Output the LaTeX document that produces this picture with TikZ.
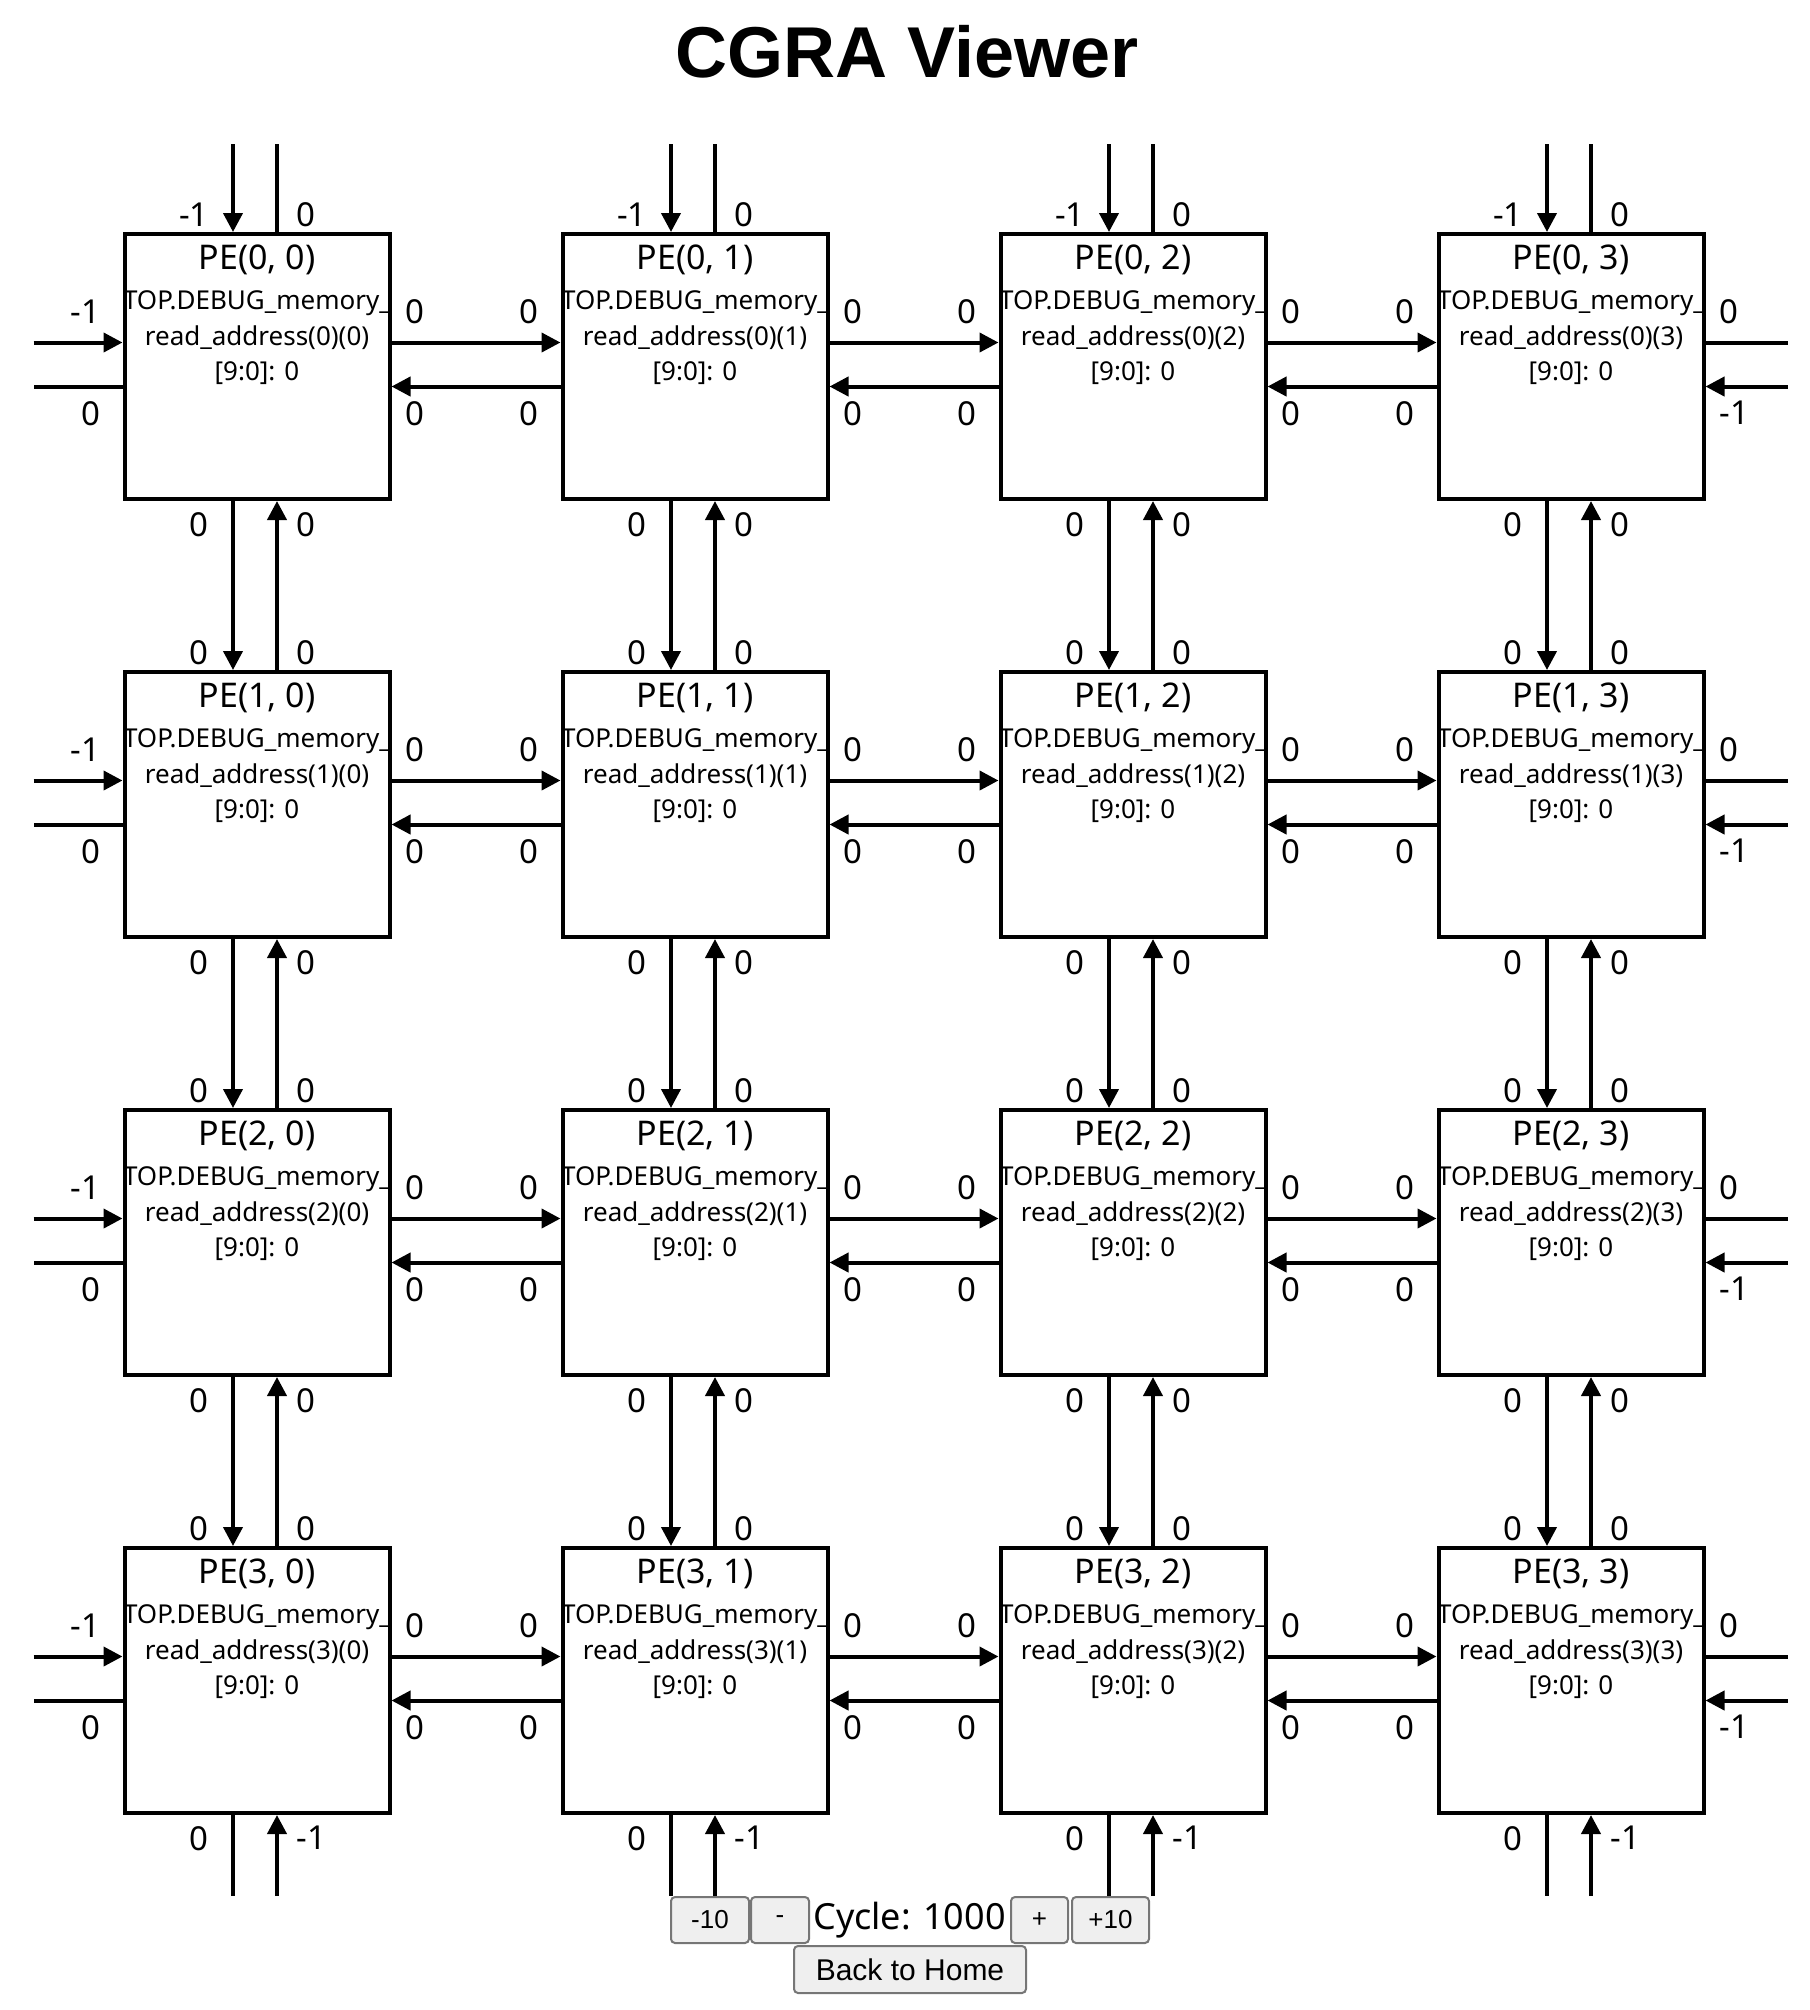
\documentclass[tikz,border=0pt]{standalone}
\usepackage{fontspec}
\setmainfont{Noto Sans}
\newfontfamily\webfont{Liberation Sans}
\usepackage{tikz}
\usetikzlibrary{positioning}
\usetikzlibrary{arrows.meta}
\definecolor{btnfill}{HTML}{EFEFEF}
\definecolor{btnline}{HTML}{767676}
\tikzset{
  pe/.style={draw, line width=2pt, minimum width=132.5pt, minimum height=132.5pt, inner sep=0pt},
  pename/.style={font=\fontsize{17}{19}\selectfont, inner sep=0pt},
  peinfo/.style={font=\fontsize{13}{17.75}\selectfont, align=center, inner sep=0pt},
  wire/.style={line width=2pt},
  tip/.style={-{Triangle[length=9.5pt,width=9.5pt]}},
  val/.style={font=\fontsize{16.5}{18}\selectfont, inner sep=0pt},
  title/.style={font=\webfont\bfseries\fontsize{36}{40}\selectfont},
  btn/.style={draw=btnline, fill=btnfill, line width=1pt, rounded corners=2pt, minimum height=23pt, inner sep=0pt, font=\webfont\fontsize{13}{15}\selectfont},
  cycle/.style={font=\fontsize{18}{20}\selectfont, inner sep=0pt}
}
\begin{document}
\begin{tikzpicture}[x=0.5pt,y=-0.5pt]
\useasboundingbox (0,0) rectangle (1810,2010);
\node[title] (title) at (907,51.5) {CGRA Viewer};
% processing elements
\foreach \r in {0,...,3}{
  \foreach \c in {0,...,3}{
    \node[pe] (pe\r\c) at ({257+438*\c},{366.5+438*\r}) {};
    \node[pename] (name\r\c) at ([yshift=-14pt]pe\r\c.north) {PE(\r, \c)};
    \node[peinfo] (info\r\c) at ([yshift=14.25pt]pe\r\c.center) {TOP.DEBUG\_memory\_\\read\_address(\r)(\c)\\{[9:0]: 0}};
  }
}
% links between columns
\foreach \r in {0,...,3}{
  \foreach \c/\n in {0/1,1/2,2/3}{
    \draw[wire,tip] ([yshift=12pt]pe\r\c.east) -- ([yshift=12pt]pe\r\n.west);
    \draw[wire,tip] ([yshift=-10pt]pe\r\n.west) -- ([yshift=-10pt]pe\r\c.east);
    \node[val,anchor=south west] (eo\r\c) at ([xshift=7pt,yshift=21.25pt]pe\r\c.east) {0};
    \node[val,anchor=north west] (ei\r\c) at ([xshift=7pt,yshift=-17.25pt]pe\r\c.east) {0};
    \node[val,anchor=south east] (wi\r\n) at ([xshift=-11pt,yshift=21.25pt]pe\r\n.west) {0};
    \node[val,anchor=north east] (wo\r\n) at ([xshift=-11pt,yshift=-17.25pt]pe\r\n.west) {0};
  }
}
% links between rows
\foreach \c in {0,...,3}{
  \foreach \r/\n in {0/1,1/2,2/3}{
    \draw[wire,tip] ([xshift=-12pt]pe\r\c.south) -- ([xshift=-12pt]pe\n\c.north);
    \draw[wire,tip] ([xshift=10pt]pe\n\c.north) -- ([xshift=10pt]pe\r\c.south);
    \node[val,anchor=north east] (so\r\c) at ([xshift=-24pt,yshift=-5.5pt]pe\r\c.south) {0};
    \node[val,anchor=north west] (si\r\c) at ([xshift=19.5pt,yshift=-5.5pt]pe\r\c.south) {0};
    \node[val,anchor=south east] (ni\n\c) at ([xshift=-24pt,yshift=2.5pt]pe\n\c.north) {0};
    \node[val,anchor=south west] (no\n\c) at ([xshift=19.5pt,yshift=2.5pt]pe\n\c.north) {0};
  }
}
% west and east edges
\foreach \r in {0,...,3}{
  \coordinate (win\r) at ([xshift=-44.5pt,yshift=12pt]pe\r0.west);
  \coordinate (wout\r) at ([xshift=-44.5pt,yshift=-10pt]pe\r0.west);
  \coordinate (eout\r) at ([xshift=41pt,yshift=12pt]pe\r3.east);
  \coordinate (ein\r) at ([xshift=41pt,yshift=-10pt]pe\r3.east);
  \draw[wire,tip] (win\r) -- (win\r -| pe\r0.west);
  \draw[wire] (pe\r0.west |- wout\r) -- (wout\r);
  \draw[wire] (pe\r3.east |- eout\r) -- (eout\r);
  \draw[wire,tip] (ein\r) -- (ein\r -| pe\r3.east);
  \node[val,anchor=south east] (wi\r0) at ([xshift=-11pt,yshift=21.25pt]pe\r0.west) {-1};
  \node[val,anchor=north east] (wo\r0) at ([xshift=-11pt,yshift=-17.25pt]pe\r0.west) {0};
  \node[val,anchor=south west] (eo\r3) at ([xshift=7pt,yshift=21.25pt]pe\r3.east) {0};
  \node[val,anchor=north west] (ei\r3) at ([xshift=7pt,yshift=-17.25pt]pe\r3.east) {-1};
}
% north and south edges
\foreach \c in {0,...,3}{
  \coordinate (nin\c) at ([xshift=-12pt,yshift=44pt]pe0\c.north);
  \coordinate (nout\c) at ([xshift=10pt,yshift=44pt]pe0\c.north);
  \coordinate (sout\c) at ([xshift=-12pt,yshift=-40.5pt]pe3\c.south);
  \coordinate (sin\c) at ([xshift=10pt,yshift=-40.5pt]pe3\c.south);
  \draw[wire,tip] (nin\c) -- (nin\c |- pe0\c.north);
  \draw[wire] (pe0\c.north -| nout\c) -- (nout\c);
  \draw[wire] (pe3\c.south -| sout\c) -- (sout\c);
  \draw[wire,tip] (sin\c) -- (sin\c |- pe3\c.south);
  \node[val,anchor=south east] (ni0\c) at ([xshift=-24pt,yshift=2.5pt]pe0\c.north) {-1};
  \node[val,anchor=south west] (no0\c) at ([xshift=19.5pt,yshift=2.5pt]pe0\c.north) {0};
  \node[val,anchor=north east] (so3\c) at ([xshift=-24pt,yshift=-5.5pt]pe3\c.south) {0};
  \node[val,anchor=north west] (si3\c) at ([xshift=19.5pt,yshift=-5.5pt]pe3\c.south) {-1};
}
% cycle controls
\node[btn, minimum width=39pt] (back10) at (710,1920) {-10};
\node[btn, minimum width=29pt] (back1) at (780,1920) {-};
\node[cycle] (cycle) at (909.5,1920) {Cycle: 1000};
\node[btn, minimum width=28.5pt] (fwd1) at (1039.5,1920) {+};
\node[btn, minimum width=38.5pt] (fwd10) at (1110.5,1920) {+10};
\node[btn, minimum width=116pt, minimum height=23.5pt, font=\webfont\fontsize{15}{17}\selectfont] (home) at (910,1969.5) {Back to Home};
\end{tikzpicture}
\end{document}
